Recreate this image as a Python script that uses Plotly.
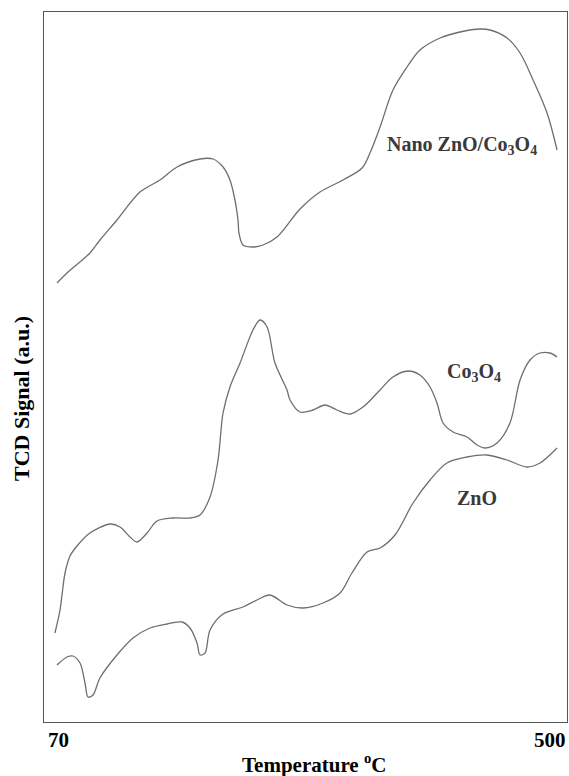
import plotly.graph_objects as go

# Temperature (°C) and TCD signal (a.u.)
nano_T = [80.7, 88.9, 107.8, 116.0, 130.0, 148.9, 165.4, 179.4, 198.3, 209.0, 217.2, 222.9, 227.0,
          229.5, 230.3, 233.6, 241.8, 250.1, 261.6, 280.5, 296.9, 315.8, 331.5, 338.0, 346.3, 356.9,
          368.5, 379.1, 395.6, 412.0, 428.5, 436.7, 450.7, 461.4, 472.1, 483.6, 491.8]
nano_S = [439, 449, 469, 482, 502, 530, 542, 555, 563, 563, 555, 542, 522,
          502, 489, 477, 475, 477, 485, 513, 530, 542, 554, 569, 595, 632,
          655, 672, 684, 690, 693, 692, 684, 669, 642, 609, 572]

co_T = [79.0, 83.2, 84.8, 87.3, 91.4, 97.1, 107.8, 124.3, 132.5, 140.7, 146.5, 154.7, 162.9, 176.1,
        190.0, 198.3, 206.5, 213.1, 217.2, 222.9, 231.2, 241.8, 247.6, 253.4, 259.9, 269.8, 272.3,
        280.5, 291.2, 301.0, 310.9, 321.6, 332.3, 346.3, 356.9, 369.3, 379.1, 387.4, 393.1, 398.1,
        406.3, 417.8, 426.0, 432.6, 442.5, 453.1, 461.4, 469.6, 477.8, 486.0, 491.8]
co_S = [89, 112, 127, 149, 166, 176, 189, 198, 195, 185, 180, 189, 201, 204,
        204, 207, 225, 262, 309, 335, 359, 392, 402, 395, 359, 332, 322,
        310, 312, 317, 312, 308, 315, 332, 345, 351, 347, 335, 319, 299,
        290, 285, 277, 274, 279, 299, 342, 362, 369, 369, 365]

zn_T = [80.7, 88.9, 93.8, 99.6, 103.7, 106.2, 110.3, 116.0, 130.0, 143.2, 157.2, 171.1, 183.5, 190.0,
        195.8, 198.3, 202.4, 206.5, 217.2, 233.6, 245.1, 255.8, 269.8, 283.0, 299.4, 313.4, 323.2,
        335.6, 346.3, 358.6, 373.4, 387.4, 401.3, 417.8, 434.2, 450.7, 467.1, 477.8, 491.8]
zn_S = [57, 65, 66, 59, 39, 25, 27, 44, 67, 84, 94, 98, 100, 94,
        79, 67, 69, 92, 108, 115, 122, 127, 117, 114, 119, 129, 149,
        170, 174, 187, 219, 242, 259, 265, 267, 262, 255, 259, 274]

labels = ["Nano ZnO/Co<sub>3</sub>O<sub>4</sub>", "Co<sub>3</sub>O<sub>4</sub>", "ZnO"]
label_T = [413.7, 423.5, 426.0]
label_S = [577, 350, 224]

x_range = [70, 500]
y_range = [0, 710]
x_tick_labels = ["70", "500"]

LINE = dict(color="#6e6e6e", width=1.3, shape="spline", smoothing=0.9)
SERIF = "Liberation Serif, Times New Roman, serif"

fig = go.Figure()
for T, S in [(nano_T, nano_S), (co_T, co_S), (zn_T, zn_S)]:
    fig.add_trace(go.Scatter(x=T, y=S, mode="lines", line=LINE, showlegend=False, hoverinfo="skip"))

for txt, tx, ty in zip(labels, label_T, label_S):
    fig.add_annotation(x=tx, y=ty, text=f"<b>{txt}</b>", showarrow=False,
                       font=dict(family=SERIF, size=20, color="#3a3a3a"))

# x tick labels at the ends of the axis
fig.add_annotation(x=x_range[0], y=0, yref="paper", text=f"<b>{x_tick_labels[0]}</b>", showarrow=False,
                   xanchor="left", yanchor="top", xshift=2, yshift=-4,
                   font=dict(family=SERIF, size=21, color="black"))
fig.add_annotation(x=x_range[1], y=0, yref="paper", text=f"<b>{x_tick_labels[1]}</b>", showarrow=False,
                   xanchor="right", yanchor="top", xshift=1, yshift=-4,
                   font=dict(family=SERIF, size=21, color="black"))
# axis titles
fig.add_annotation(x=0.5, xref="paper", y=0, yref="paper", text="<b>Temperature <sup>o</sup>C</b>",
                   showarrow=False, xanchor="center", yanchor="middle", xshift=8, yshift=-41,
                   font=dict(family=SERIF, size=21, color="black"))
fig.add_annotation(x=0, xref="paper", y=0.455, yref="paper", text="<b>TCD Signal (a.u.)</b>",
                   showarrow=False, textangle=-90, xanchor="center", yanchor="middle", xshift=-22,
                   font=dict(family=SERIF, size=22, color="black"))

fig.update_xaxes(range=x_range, showticklabels=False, ticks="", showgrid=False, zeroline=False,
                 showline=True, linecolor="#555555", linewidth=1, mirror=True)
fig.update_yaxes(range=y_range, showticklabels=False, ticks="", showgrid=False, zeroline=False,
                 showline=True, linecolor="#555555", linewidth=1, mirror=True)
fig.update_layout(width=569, height=776, margin=dict(l=44, r=2, t=12, b=54),
                  plot_bgcolor="white", paper_bgcolor="white")
fig.write_html("out.html", config={"displayModeBar": False},
               post_script="document.body.style.margin='0';document.body.style.overflow='hidden';")
